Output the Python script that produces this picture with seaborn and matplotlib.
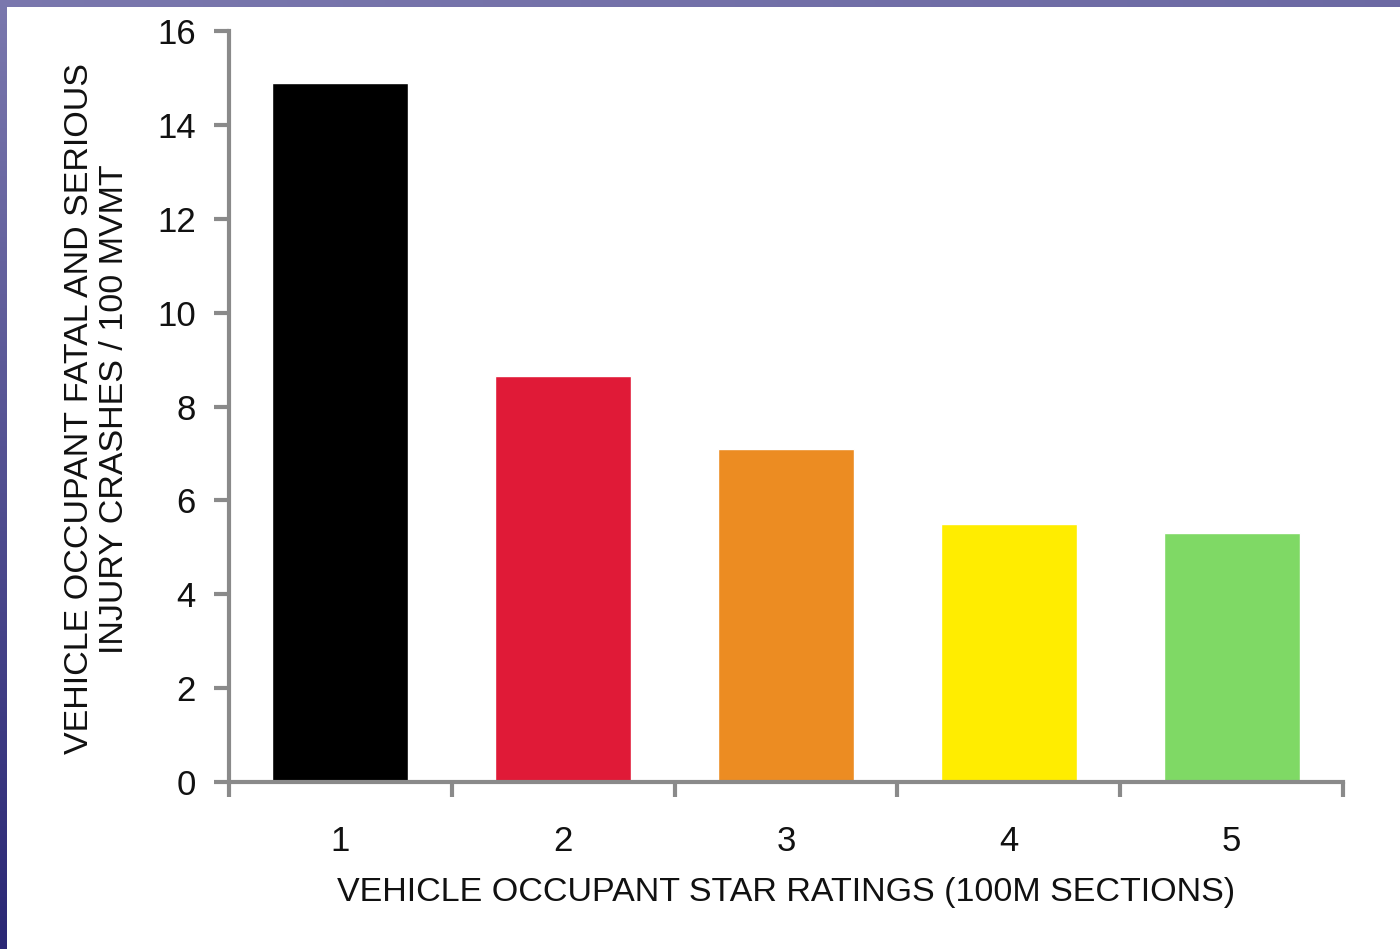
import numpy as np
import pandas as pd
import matplotlib
matplotlib.use("Agg")
import matplotlib.pyplot as plt
from matplotlib.patches import Rectangle
import seaborn as sns

# Crash rates by star rating
ratings = ["1", "2", "3", "4", "5"]
crash_rates = [14.9, 8.65, 7.1, 5.5, 5.3]
bar_colors = ["#000000", "#e01a37", "#ec8c22", "#ffed00", "#7fd965"]
y_ticks = [0, 2, 4, 6, 8, 10, 12, 14, 16]

sns.set_theme(style="white")
plt.rcParams["font.family"] = ["Liberation Sans", "DejaVu Sans"]

W, H = 1400, 949
fig = plt.figure(figsize=(W / 100, H / 100), dpi=100)

# Slide frame: gradient band at top and left edge
bg = fig.add_axes([0, 0, 1, 1], zorder=0)
bg.set_axis_off()
yy = np.linspace(0, 1, 200)[:, None]
xx = np.linspace(0, 1, 200)[None, :]
top = np.array([0.48, 0.47, 0.68])
bottom = np.array([0.11, 0.10, 0.42])
t = np.clip(yy * 0.85 + xx * 0.15, 0, 1)
grad = top[None, None, :] * (1 - t[..., None]) + bottom[None, None, :] * t[..., None]
bg.imshow(grad, extent=[0, W, H, 0], aspect="auto")
bg.add_patch(Rectangle((7, 7), W, H, facecolor="white", edgecolor="none"))
bg.set_xlim(0, W)
bg.set_ylim(H, 0)

ax = fig.add_axes([229 / W, 1 - 782 / H, (1343 - 229) / W, (782 - 31) / H], zorder=1)
ax.patch.set_alpha(0)

df = pd.DataFrame({"rating": ratings, "rate": crash_rates})
sns.barplot(data=df, x="rating", y="rate", hue="rating", palette=bar_colors,
            legend=False, width=0.61, saturation=1, ax=ax)

ax.set_ylim(0, 16)
ax.set_xlim(-0.5, 4.5)
ax.set_yticks(y_ticks)
ax.set_yticklabels([str(v) for v in y_ticks], fontsize=25, color="#111111")
ax.set_xticks(np.arange(-0.5, 5.0, 1.0), minor=False)
ax.set_xticklabels([])
ax.set_xticks(range(5), minor=True)
ax.set_xticklabels(ratings, minor=True, fontsize=25, color="#111111")

spine_color = "#8a8a8a"
for s in ["top", "right"]:
    ax.spines[s].set_visible(False)
for s in ["left", "bottom"]:
    ax.spines[s].set_color(spine_color)
    ax.spines[s].set_linewidth(3)
ax.tick_params(axis="y", which="major", direction="out", length=11, width=3,
               color=spine_color, pad=13, left=True)
ax.tick_params(axis="x", which="major", direction="out", length=11, width=3,
               color=spine_color, bottom=True)
ax.tick_params(axis="x", which="minor", length=0, pad=31, bottom=True)

ax.set_xlabel("VEHICLE OCCUPANT STAR RATINGS (100M SECTIONS)", fontsize=24.5,
              color="#111111", labelpad=14)
ax.set_ylabel("VEHICLE OCCUPANT FATAL AND SERIOUS\nINJURY CRASHES / 100 MVMT",
              fontsize=24.5, color="#111111", linespacing=1.15, va="center")
ax.yaxis.set_label_coords((97 - 229) / 1114, 0.497)

fig.savefig("out.png", dpi=100)
